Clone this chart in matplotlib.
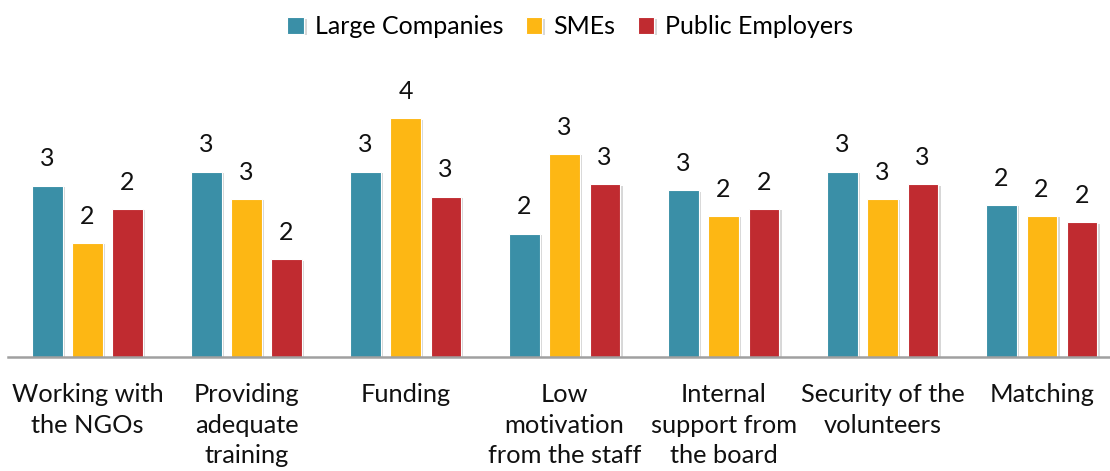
import matplotlib.pyplot as plt
import matplotlib.patheffects as pe
import numpy as np

plt.rcParams['font.family'] = ['Lato', 'DejaVu Sans']

categories = ['Working with\nthe NGOs', 'Providing\nadequate\ntraining', 'Funding',
              'Low\nmotivation\nfrom the staff', 'Internal\nsupport from\nthe board',
              'Security of the\nvolunteers', 'Matching']
series_names = ['Large Companies', 'SMEs', 'Public Employers']
large = [2.71, 2.89, 2.89, 2.09, 2.65, 2.89, 2.46]
smes = [1.97, 2.54, 3.58, 3.12, 2.32, 2.54, 2.32]
public = [2.41, 1.76, 2.57, 2.73, 2.41, 2.73, 2.24]
colors = ['#3a8fa7', '#fdb714', '#c02b30']

fig = plt.figure(figsize=(11.1, 4.71), dpi=100)
ax = fig.add_axes([0.0072, 0.242, 0.9928, 0.576])

x = np.arange(len(categories))
width = 0.19
step = 0.252
shadow = [pe.SimplePatchShadow(offset=(2, -1), shadow_rgbFace='#b0b0b0', alpha=0.5), pe.Normal()]

for i, (vals, name, c) in enumerate(zip([large, smes, public], series_names, colors)):
    bars = ax.bar(x + (i - 1) * step, vals, width, bottom=0, color=c, label=name,
                  edgecolor='white', linewidth=0.8, zorder=2)
    for b in bars:
        b.set_path_effects(shadow)
    labels = [f'{v:.0f}' for v in vals]
    ax.bar_label(bars, labels=labels, padding=11, fontsize=18, color='#111111')

ax.set_ylim(0.5, 4.0)
ax.set_xlim(-0.5, 6.43)
ax.set_yticks([])
ax.set_xticks(x)
ax.set_xticklabels(categories, fontsize=18.3, linespacing=1.38, color='#111111')
ax.tick_params(axis='x', length=0, pad=19)
for s in ['top', 'right', 'left']:
    ax.spines[s].set_visible(False)
ax.spines['bottom'].set_color('#a0a0a0')
ax.spines['bottom'].set_linewidth(1.8)

fig.legend(loc='upper center', bbox_to_anchor=(0.514, 1.015), ncol=3, frameon=False,
           fontsize=18, handlelength=0.65, handleheight=0.65, columnspacing=0.9,
           handletextpad=0.45)

fig.savefig('out.png', dpi=100)
